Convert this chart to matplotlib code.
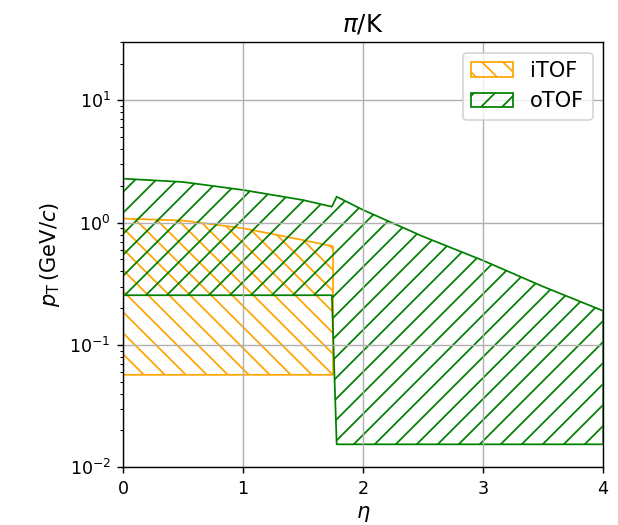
import numpy as np
import matplotlib
matplotlib.use('Agg')
import matplotlib.pyplot as plt

# Inner TOF coverage (barrel only)
eta_itof = [0.0, 0.5, 1.0, 1.5, 1.75]
itof_low = [0.057, 0.057, 0.057, 0.057, 0.057]
itof_high = [1.08, 1.04, 0.90, 0.72, 0.64]

# Outer TOF coverage (barrel + forward disk)
eta_otof = [0.0, 0.5, 1.0, 1.5, 1.74, 1.78, 2.0, 2.5, 3.0, 3.5, 4.0]
otof_low = [0.255, 0.255, 0.255, 0.255, 0.255, 0.0154, 0.0154, 0.0154, 0.0154, 0.0154, 0.0154]
otof_high = [2.29, 2.15, 1.85, 1.53, 1.35, 1.63, 1.27, 0.77, 0.49, 0.30, 0.19]

fig = plt.figure(figsize=(618/126, 525/126), dpi=126)
ax = fig.add_axes([0.199, 0.110, 0.777, 0.810])

ax.fill_between(eta_itof, itof_low, itof_high, facecolor='none',
                edgecolor='orange', hatch='\\\\', label='iTOF')
ax.fill_between(eta_otof, otof_low, otof_high, facecolor='none',
                edgecolor='green', hatch='//', label='oTOF')

ax.set_yscale('log')
ax.set_xlim(0, 4)
ax.set_ylim(1e-2, 30)
ax.set_xticks([0, 1, 2, 3, 4])
ax.grid(True)
ax.set_xlabel(r'$\eta$', fontsize=12)
ax.set_ylabel(r'$p_{\rm T}\,({\rm GeV}/c)$', fontsize=12)
ax.set_title(r'$\pi$/K', fontsize=14)
ax.legend(loc='upper right', fontsize=12)

fig.savefig('out.png', dpi=126)
